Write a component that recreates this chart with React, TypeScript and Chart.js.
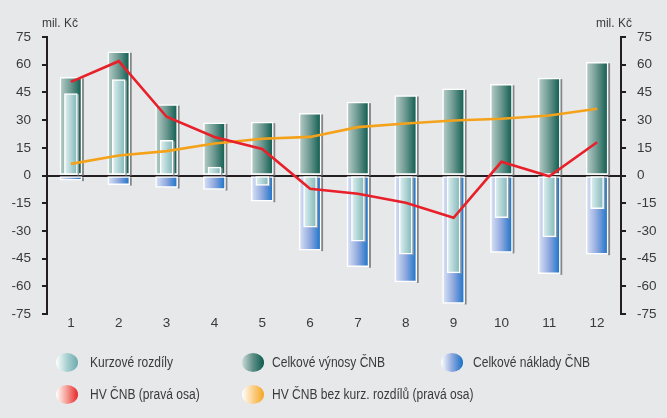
import React, { useEffect, useRef } from 'react';
import { Chart, registerables } from 'chart.js';

Chart.register(...registerables);

const months = ['1', '2', '3', '4', '5', '6', '7', '8', '9', '10', '11', '12'];
const kurzoveRozdily = [44.4, 52, 19.1, 4.5, -5.4, -28, -35.6, -42.6, -52.7, -22.9, -33.2, -17.9];
const celkoveVynosy = [53.2, 67, 38.4, 28.5, 28.9, 33.6, 39.7, 43.3, 46.9, 49.4, 52.7, 61.3];
const celkoveNaklady = [-2.5, -4.9, -6.5, -7.6, -13.9, -40.4, -49.4, -57.6, -69.3, -41.6, -53.2, -42.6];
const hvCnb = [50.7, 61.9, 31.8, 20.9, 14.4, -7.2, -9.9, -14.8, -22.9, 7.4, -0.4, 18];
const hvBezKurz = [6.3, 10.8, 13.2, 17.3, 19.9, 20.9, 26.2, 28.2, 29.8, 30.7, 32.5, 36.1];
const axisMin = -75;
const axisMax = 75;
const axisStep = 15;

const FONT = "'Liberation Sans', Arial, sans-serif";
const BG = '#e7e8ea';
const TEXT = '#3a3a3a';
const AXIS = '#231f20';

const greenStops = ['#b9cfcb', '#6a978f', '#0b5a4d'];
const blueStops = ['#dde5f7', '#8ea8de', '#1670c8'];
const cyanStops = ['#e3f1f1', '#b0d4d5', '#80b6b9'];

function barGradient(stops: string[], width: number) {
  return (ctx: any) => {
    const chart = ctx.chart;
    const xs = chart.scales && chart.scales.x;
    if (!xs || ctx.dataIndex === undefined) return stops[stops.length - 1];
    const x = xs.getPixelForValue(ctx.dataIndex);
    if (!isFinite(x)) return stops[stops.length - 1];
    const g = chart.ctx.createLinearGradient(x - width / 2, 0, x + width / 2, 0);
    stops.forEach((c, i) => g.addColorStop(i / (stops.length - 1), c));
    return g;
  };
}

const shadowPlugin = {
  id: 'barShadow',
  beforeDatasetDraw(chart: any, args: any) {
    const meta = args.meta;
    if (meta.type !== 'bar') return;
    const c = chart.ctx;
    c.save();
    c.fillStyle = meta.index === 0 ? '#8f9a9a' : '#858585';
    meta.data.forEach((el: any) => {
      const p = el.getProps(['x', 'y', 'base', 'width'], true);
      const top = Math.min(p.y, p.base);
      const h = Math.abs(p.y - p.base);
      c.fillRect(p.x + p.width / 2, top + 1, meta.index === 0 ? 1.5 : 2, h);
    });
    c.restore();
  },
};

function Marker({ stops }: { stops: string[] }) {
  return (
    <span
      style={{
        position: 'absolute',
        left: 0,
        top: 0,
        width: 22,
        height: 19,
        borderRadius: '50%',
        background: `linear-gradient(to right, ${stops.join(', ')})`,
      }}
    />
  );
}

const legendItems = [
  { label: 'Kurzové rozdíly', stops: ['#ffffff', '#a8d0d1', '#6eaaae'], x: 56, y: 353, tx: 34 },
  { label: 'Celkové výnosy ČNB', stops: ['#c9dbd7', '#5f8f87', '#0a5a4c'], x: 242, y: 353, tx: 30 },
  { label: 'Celkové náklady ČNB', stops: ['#ffffff', '#8fa9de', '#1570c6'], x: 441, y: 353, tx: 32 },
  { label: 'HV ČNB (pravá osa)', stops: ['#ffffff', '#f49a92', '#e8262b'], x: 56, y: 385, tx: 34 },
  { label: 'HV ČNB bez kurz. rozdílů (pravá osa)', stops: ['#ffffff', '#fbd08a', '#f5a623'], x: 242, y: 385, tx: 30 },
];

export default function App() {
  const canvasRef = useRef<HTMLCanvasElement | null>(null);

  useEffect(() => {
    const canvas = canvasRef.current;
    if (!canvas) return;
    const yFont = { family: FONT, size: 13.5 };
    const xFont = { family: FONT, size: 13.5 };
    const chart = new Chart(canvas, {
      data: {
        labels: months,
        datasets: [
          {
            type: 'bar',
            label: 'Kurzové rozdíly',
            data: kurzoveRozdily,
            backgroundColor: barGradient(cyanStops, 13),
            borderColor: '#ffffff',
            borderWidth: 1.5,
            borderSkipped: false,
            barThickness: 13,
            grouped: false,
            order: 1,
            yAxisID: 'y',
          },
          {
            type: 'bar',
            label: 'Celkové výnosy ČNB',
            data: celkoveVynosy,
            backgroundColor: barGradient(greenStops, 22),
            borderColor: '#ffffff',
            borderWidth: 1.5,
            borderSkipped: false,
            barThickness: 22,
            grouped: false,
            order: 2,
            yAxisID: 'y',
          },
          {
            type: 'bar',
            label: 'Celkové náklady ČNB',
            data: celkoveNaklady,
            backgroundColor: barGradient(blueStops, 22),
            borderColor: '#ffffff',
            borderWidth: 1.5,
            borderSkipped: false,
            barThickness: 22,
            grouped: false,
            order: 2,
            yAxisID: 'y',
          },
          {
            type: 'line',
            label: 'HV ČNB (pravá osa)',
            data: hvCnb,
            borderColor: '#e8202a',
            borderWidth: 2.6,
            pointRadius: 0,
            tension: 0,
            order: 0,
            yAxisID: 'y2',
          },
          {
            type: 'line',
            label: 'HV ČNB bez kurz. rozdílů (pravá osa)',
            data: hvBezKurz,
            borderColor: '#f5a21b',
            borderWidth: 2.6,
            pointRadius: 0,
            tension: 0,
            order: 0,
            yAxisID: 'y2',
          },
        ],
      } as any,
      options: {
        responsive: false,
        animation: false,
        devicePixelRatio: 1,
        layout: { padding: { left: 0, right: 0, top: 37, bottom: 78 } },
        plugins: { legend: { display: false }, tooltip: { enabled: false } },
        scales: {
          x: {
            type: 'category',
            offset: true,
            grid: { display: false, drawTicks: false },
            border: { display: false },
            ticks: { color: TEXT, font: xFont, padding: 1, maxRotation: 0 },
            afterFit: (s: any) => {
              s.height = 26;
            },
          },
          y: {
            position: 'left',
            min: axisMin,
            max: axisMax,
            ticks: { stepSize: axisStep, color: TEXT, font: yFont, padding: 11 },
            grid: {
              drawOnChartArea: true,
              drawTicks: true,
              tickLength: 5,
              lineWidth: 2,
              tickColor: AXIS,
              color: (ctx: any) => (ctx.tick && ctx.tick.value === 0 ? AXIS : 'rgba(0,0,0,0)'),
            },
            border: { display: true, color: AXIS, width: 2 },
            afterFit: (s: any) => {
              s.width = 47;
            },
          },
          y2: {
            position: 'right',
            min: axisMin,
            max: axisMax,
            ticks: { stepSize: axisStep, color: TEXT, font: yFont, padding: 11 },
            grid: {
              drawOnChartArea: false,
              drawTicks: true,
              tickLength: 5,
              lineWidth: 2,
              tickColor: AXIS,
              color: AXIS,
            },
            border: { display: true, color: AXIS, width: 2 },
            afterFit: (s: any) => {
              s.width = 46;
            },
          },
        },
      } as any,
      plugins: [shadowPlugin],
    });
    return () => chart.destroy();
  }, []);

  const condensed: React.CSSProperties = {
    position: 'absolute',
    top: 0,
    fontSize: 14,
    lineHeight: '19px',
    whiteSpace: 'nowrap',
    transform: 'scaleX(0.86)',
    transformOrigin: 'left center',
  };

  return (
    <div
      style={{
        position: 'absolute',
        left: 0,
        top: 0,
        width: 667,
        height: 418,
        background: BG,
        overflow: 'hidden',
        fontFamily: FONT,
        color: TEXT,
      }}
    >
      <canvas
        ref={canvasRef}
        width={667}
        height={418}
        style={{ position: 'absolute', left: 0, top: 0, width: 667, height: 418 }}
      />
      <span style={{ position: 'absolute', left: 42, top: 15, fontSize: 13, lineHeight: '16px', whiteSpace: 'nowrap', transform: 'scaleX(0.92)', transformOrigin: 'left center' }}>
        mil. Kč
      </span>
      <span style={{ position: 'absolute', left: 596, top: 15, fontSize: 13, lineHeight: '16px', whiteSpace: 'nowrap', transform: 'scaleX(0.92)', transformOrigin: 'left center' }}>
        mil. Kč
      </span>
      {legendItems.map((it) => (
        <div key={it.label} style={{ position: 'absolute', left: it.x, top: it.y, height: 19 }}>
          <Marker stops={it.stops} />
          <span style={{ ...condensed, left: it.tx }}>{it.label}</span>
        </div>
      ))}
    </div>
  );
}
